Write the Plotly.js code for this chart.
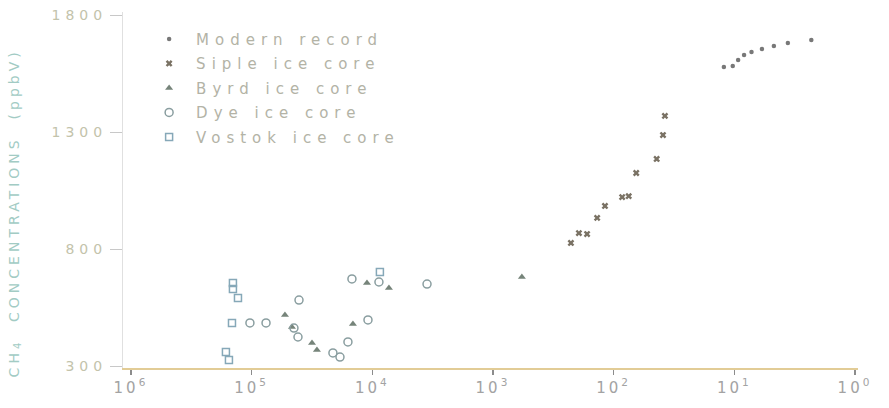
<!DOCTYPE html>
<html>
<head>
<meta charset="utf-8">
<script src="https://cdn.plot.ly/plotly-3.0.1.min.js"></script>
<style>
  html, body { margin: 0; padding: 0; background: #ffffff; }
  #chart { width: 889px; height: 408px; }
  .legendtext { letter-spacing: 6px; }
  .xtick text { letter-spacing: 3px; }
  .ytick text { letter-spacing: 5px; }
  .annotation-text { letter-spacing: 4px; }
</style>
</head>
<body>
<div id="chart"></div>
<script>
// Years before present (log axis, reversed) and CH4 concentration (ppbV)
const modernYears = [12.2, 10.3, 9.3, 8.3, 7.2, 5.9, 4.7, 3.6, 2.3];
const modernCH4   = [1578, 1582, 1608, 1629, 1642, 1655, 1668, 1680, 1693];

const sipleYears = [226, 194, 166, 137, 118, 85, 75, 65, 44, 39, 37.6];
const sipleCH4   = [826, 868, 864, 933, 984, 1022, 1026, 1125, 1185, 1287, 1369];

const byrdYears = [52950, 46350, 31600, 28760, 14470, 11070, 7280, 576];
const byrdCH4   = [518, 467, 398, 368, 480, 655, 633, 680];

const dyeYears = [103300, 76000, 40500, 44600, 41300, 21200, 18530, 15920, 10860, 14750, 8810, 3520];
const dyeCH4   = [484, 484, 582, 462, 424, 356, 338, 403, 497, 672, 659, 650];

const vostokYears = [142900, 142900, 129800, 145500, 163300, 154200, 8650];
const vostokCH4   = [655, 629, 591, 484, 360, 326, 702];

const seriesNames = ["Modern record", "Siple ice core", "Byrd ice core", "Dye ice core", "Vostok ice core"];

const xTickVals = [1e6, 1e5, 1e4, 1e3, 1e2, 1e1, 1e0];
const xTickText = ["10<sup>6</sup>", "10<sup>5</sup>", "10<sup>4</sup>", "10<sup>3</sup>", "10<sup>2</sup>", "10<sup>1</sup>", "10<sup>0</sup>"];
const yTickVals = [300, 800, 1300, 1800];
const yTickText = ["300", "800", "1300", "1800"];

const traces = [
  { x: modernYears, y: modernCH4, name: seriesNames[0], legendgroup: "a",
    mode: "markers", type: "scatter",
    marker: { symbol: "circle", size: 4.5, color: "#787878" } },
  { x: sipleYears, y: sipleCH4, name: seriesNames[1], legendgroup: "b",
    mode: "markers", type: "scatter",
    marker: { symbol: "x", size: 6, color: "#7a7264" } },
  { x: byrdYears, y: byrdCH4, name: seriesNames[2], legendgroup: "c",
    mode: "markers", type: "scatter",
    marker: { symbol: "triangle-up", size: 7, color: "#76847a" } },
  { x: dyeYears, y: dyeCH4, name: seriesNames[3], legendgroup: "d",
    mode: "markers", type: "scatter",
    marker: { symbol: "circle-open", size: 8, color: "#8a9ea0", line: { width: 1.5 } } },
  { x: vostokYears, y: vostokCH4, name: seriesNames[4], legendgroup: "e",
    mode: "markers", type: "scatter",
    marker: { symbol: "square-open", size: 7, color: "#86a8b8", line: { width: 1.5 } } }
];

const layout = {
  width: 889, height: 408,
  margin: { l: 123, r: 31, t: 12, b: 40 },
  paper_bgcolor: "#ffffff",
  plot_bgcolor: "#ffffff",
  font: { family: "DejaVu Sans, sans-serif", color: "#aaaaaa" },
  showlegend: true,
  legend: {
    x: 0.026, y: 0.97, xanchor: "left", yanchor: "top",
    bgcolor: "rgba(0,0,0,0)",
    font: { size: 15, color: "#b3b3a6", family: "DejaVu Sans, sans-serif" },
    tracegroupgap: 2,
    itemwidth: 44
  },
  xaxis: {
    type: "log",
    range: [6.066, -0.025],
    tickvals: xTickVals,
    ticktext: xTickText,
    ticks: "outside", ticklen: 5, tickwidth: 1.5, tickcolor: "#8c8c8c",
    showline: true, linecolor: "#e2cc96", linewidth: 1.5,
    showgrid: false, zeroline: false,
    tickfont: { size: 15, color: "#a3a3a3" }
  },
  yaxis: {
    range: [291.5, 1813],
    tickvals: yTickVals,
    ticktext: yTickText,
    ticks: "outside", ticklen: 12, tickwidth: 1, tickcolor: "#c8c8c8",
    showline: true, linecolor: "#e0e0e0", linewidth: 1,
    showgrid: false, zeroline: false,
    tickfont: { size: 14, color: "#c3c3ab" }
  },
  annotations: [
    { text: "CH<sub>4</sub>  CONCENTRATIONS  (ppbV)",
      xref: "paper", yref: "paper",
      x: -0.147, y: 0.437, xanchor: "center", yanchor: "middle",
      textangle: -90, showarrow: false,
      font: { size: 14, color: "#a2cbc4", family: "DejaVu Sans, sans-serif" } }
  ]
};

Plotly.newPlot("chart", traces, layout, { displayModeBar: false, staticPlot: true });
</script>
</body>
</html>
